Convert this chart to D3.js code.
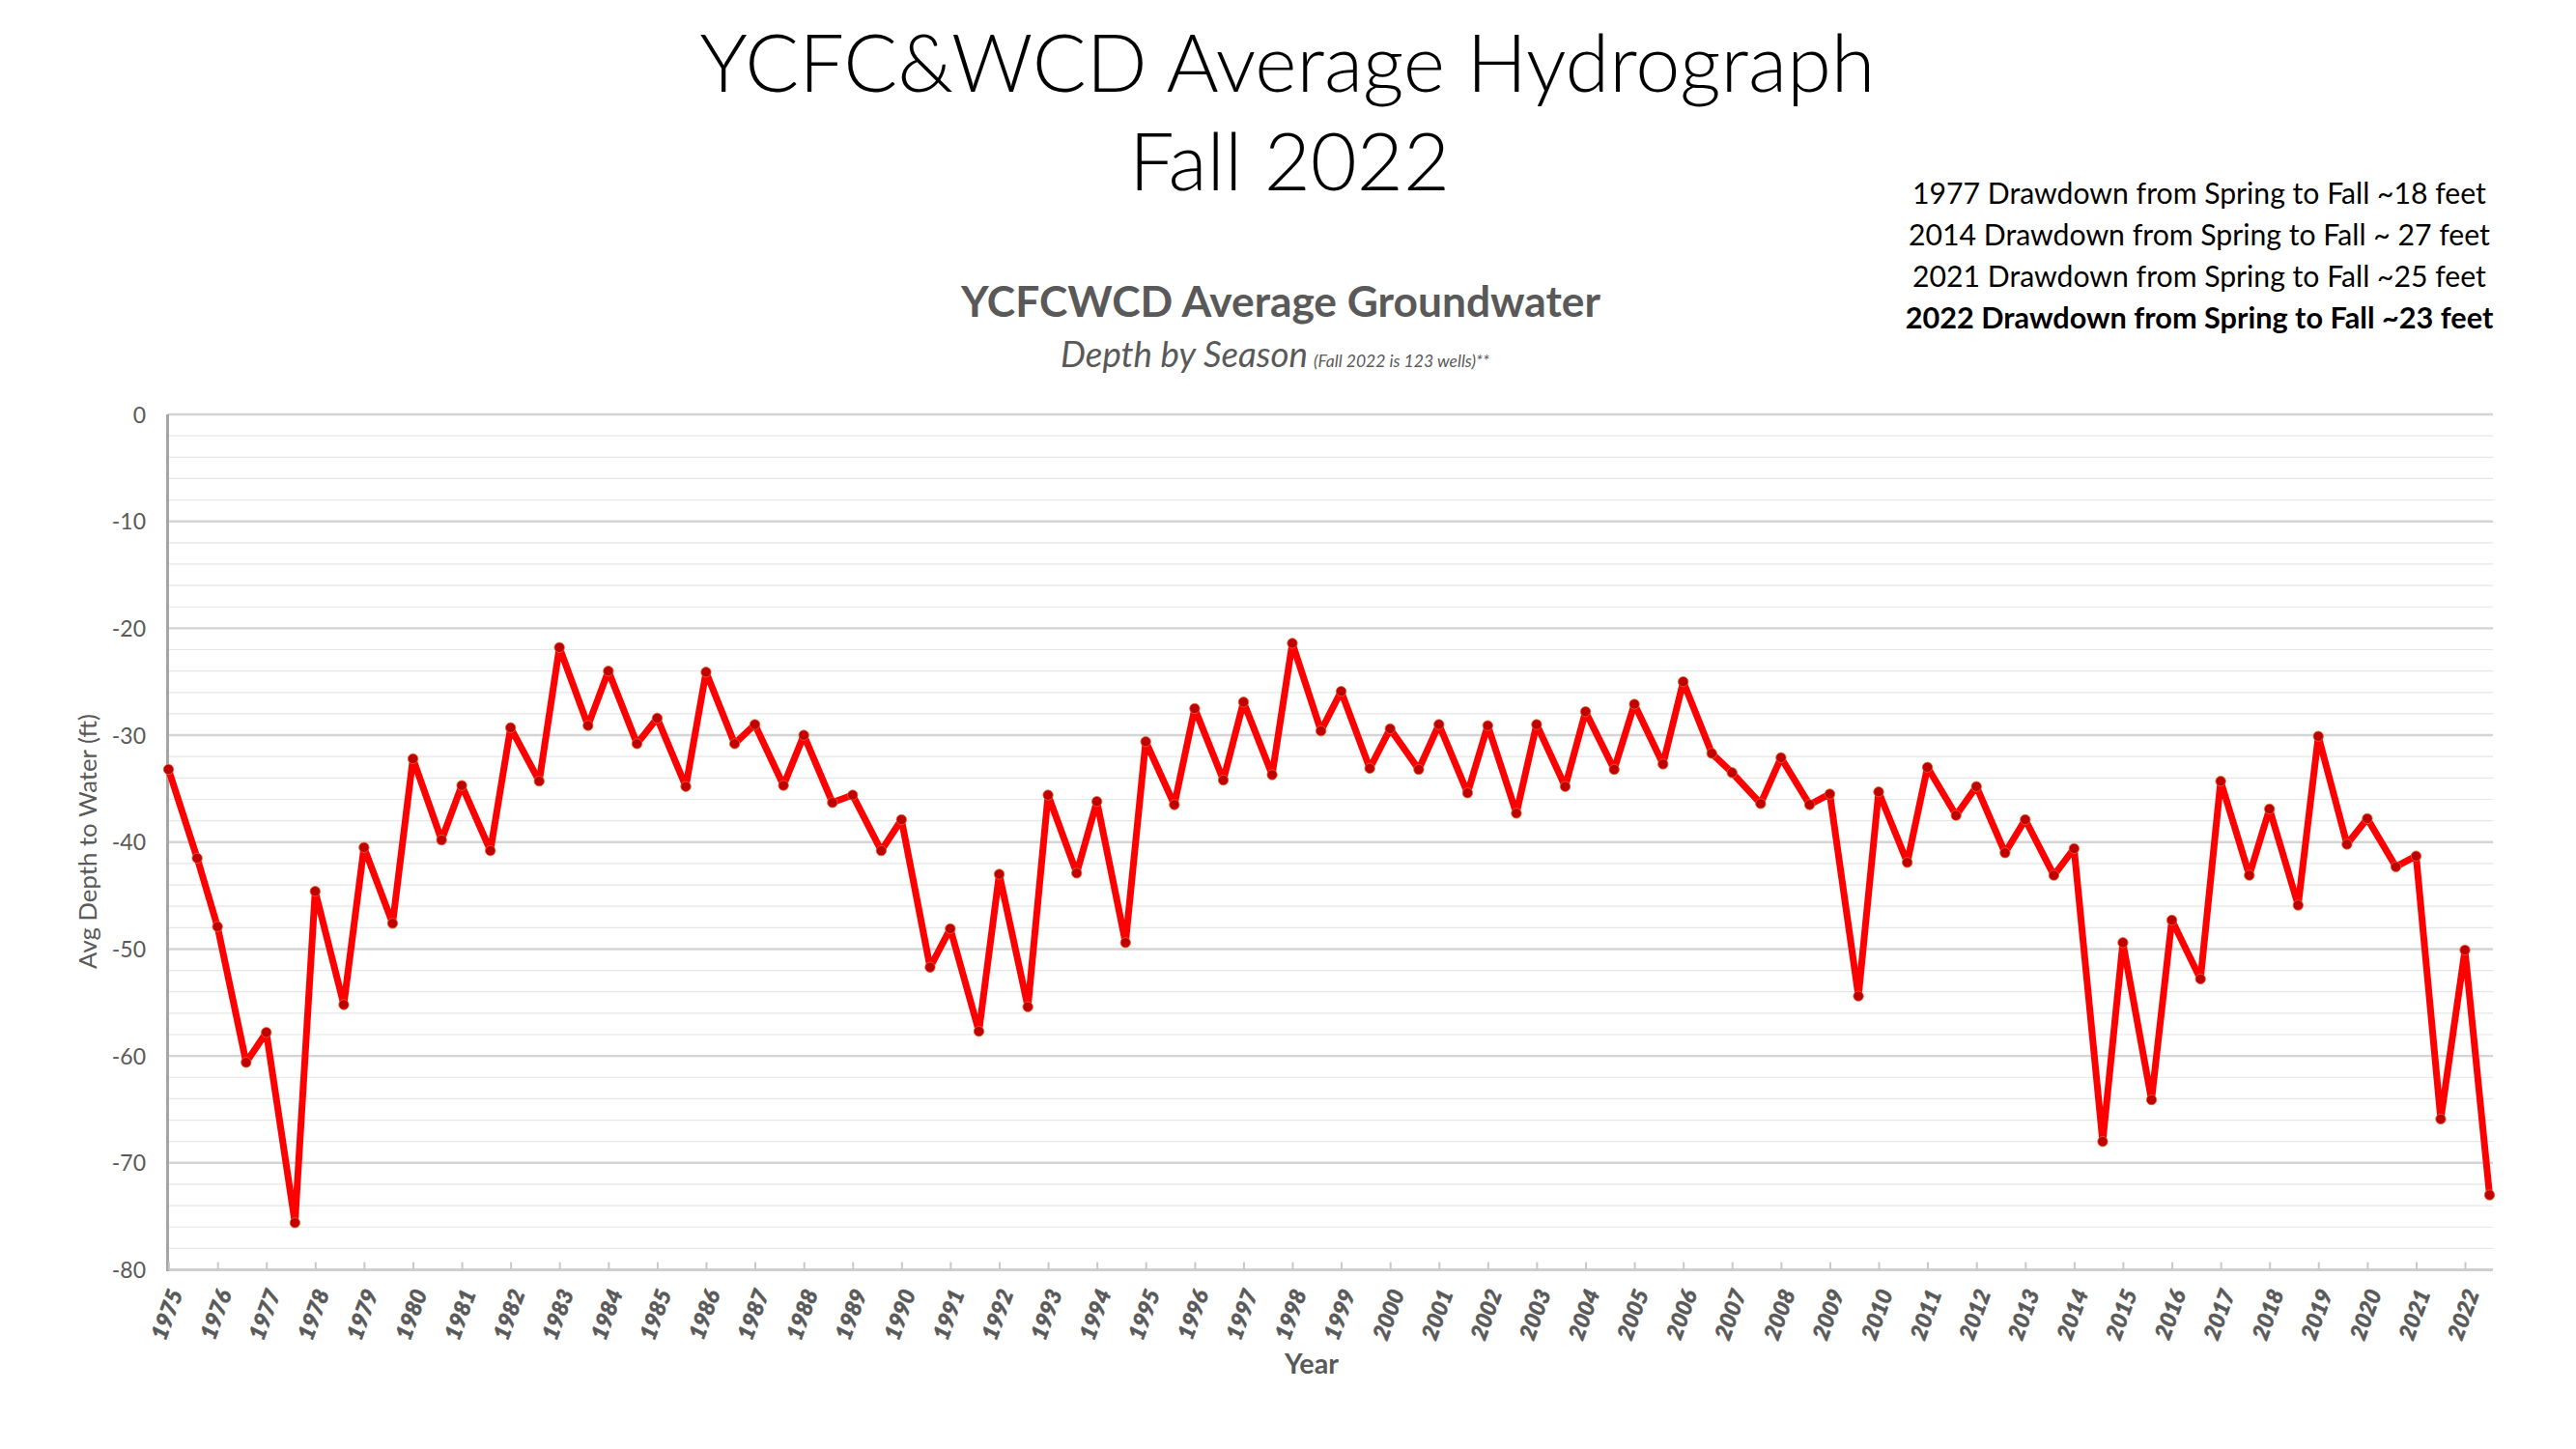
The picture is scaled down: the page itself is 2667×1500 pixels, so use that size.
<!DOCTYPE html>
<html>
<head>
<meta charset="utf-8">
<script src="https://cdn.jsdelivr.net/npm/d3@7/dist/d3.min.js"></script>
<style>
  html, body { margin: 0; padding: 0; background: #ffffff; }
  svg { display: block; }
  text { font-family: Lato, "Open Sans", "Noto Sans", sans-serif; }
</style>
</head>
<body>
<svg id="chart" width="2667" height="1500"></svg>
<script>
// ---------------- DATA ----------------
const years = [1975,1976,1977,1978,1979,1980,1981,1982,1983,1984,1985,1986,1987,1988,1989,1990,
               1991,1992,1993,1994,1995,1996,1997,1998,1999,2000,2001,2002,2003,2004,2005,2006,
               2007,2008,2009,2010,2011,2012,2013,2014,2015,2016,2017,2018,2019,2020,2021,2022];

// Spring measurement (ft, negative = depth below surface)
const springDepth = [-33.2,-47.9,-57.8,-44.6,-40.5,-32.2,-34.7,-29.3,-21.8,-24.0,-28.4,-24.1,-29.0,-30.0,-35.6,-37.9,
                     -48.1,-43.0,-35.6,-36.2,-30.6,-27.5,-26.9,-21.4,-25.9,-29.4,-29.0,-29.1,-29.0,-27.8,-27.1,-25.0,
                     -33.5,-32.1,-35.5,-35.3,-33.0,-34.8,-37.9,-40.6,-49.4,-47.3,-34.3,-36.9,-30.1,-37.8,-41.3,-50.1];

// Fall measurement
const fallDepth = [-41.5,-60.6,-75.6,-55.2,-47.6,-39.8,-40.8,-34.3,-29.1,-30.8,-34.8,-30.8,-34.7,-36.3,-40.8,-51.7,
                   -57.7,-55.4,-42.9,-49.4,-36.5,-34.2,-33.7,-29.6,-33.1,-33.2,-35.4,-37.3,-34.8,-33.2,-32.7,-31.7,
                   -36.4,-36.5,-54.4,-41.9,-37.5,-41.0,-43.1,-68.0,-64.1,-52.8,-43.1,-45.9,-40.2,-42.3,-65.9,-73.0];

// Sampling months (spring in March, fall in October; Sept for the latest two falls)
const springMonth = 3;
const fallMonth = 10;
const fallMonthOverride = {2021: 9, 2022: 9};

const yTicks = [0,-10,-20,-30,-40,-50,-60,-70,-80];
const yMinorTicks = d3.range(0, -81, -2);

const titleLines = ["YCFC&WCD Average Hydrograph", "Fall 2022"];
const chartTitle = "YCFCWCD Average Groundwater";
const chartSubtitle = "Depth by Season";
const chartSubnote = "(Fall 2022 is 123 wells)**";
const notes = [
  {text: "1977 Drawdown from Spring to Fall ~18 feet", bold: false},
  {text: "2014 Drawdown from Spring to Fall ~ 27 feet", bold: false},
  {text: "2021 Drawdown from Spring to Fall ~25 feet", bold: false},
  {text: "2022 Drawdown from Spring to Fall ~23 feet", bold: true}
];
const yAxisTitle = "Avg Depth to Water (ft)";
const xAxisTitle = "Year";

// ---------------- BUILD SERIES ----------------
const points = [];
years.forEach((yr, i) => {
  points.push({date: new Date(Date.UTC(yr, springMonth - 1, 1)), v: springDepth[i]});
  const fm = fallMonthOverride[yr] || fallMonth;
  points.push({date: new Date(Date.UTC(yr, fm - 1, 1)), v: fallDepth[i]});
});

// ---------------- LAYOUT ----------------
const svg = d3.select("#chart");
const plotLeft = 173.5, plotRight = 2581, plotTop = 429, plotBottom = 1314.5;
const gray = "#595959";

const x = d3.scaleUtc()
  .domain([points[0].date, points[points.length - 1].date])
  .range([174.5, 2577.5]);
const y = d3.scaleLinear().domain([0, -80]).range([plotTop, plotBottom]);

function fit(sel, w) {
  const len = sel.node().getComputedTextLength();
  const fs = parseFloat(sel.attr("font-size"));
  sel.attr("font-size", (fs * w / len).toFixed(2));
  return sel;
}

// ---------------- GRID ----------------
const grid = svg.append("g");
grid.selectAll("line.minor")
  .data(yMinorTicks.filter(v => v % 10 !== 0))
  .join("line").attr("class", "minor")
  .attr("x1", plotLeft).attr("x2", plotRight)
  .attr("y1", d => y(d)).attr("y2", d => y(d))
  .attr("stroke", "#e6e6e6").attr("stroke-width", 1.2);
grid.selectAll("line.major")
  .data(yTicks.filter(v => v !== -80))
  .join("line").attr("class", "major")
  .attr("x1", plotLeft).attr("x2", plotRight)
  .attr("y1", d => y(d)).attr("y2", d => y(d))
  .attr("stroke", "#d4d4d4").attr("stroke-width", 2.4);

// ---------------- AXES ----------------
svg.append("line")
  .attr("x1", plotLeft).attr("x2", plotRight)
  .attr("y1", y(-80)).attr("y2", y(-80))
  .attr("stroke", "#cfcfcf").attr("stroke-width", 3);
svg.append("line")
  .attr("x1", plotLeft).attr("x2", plotLeft)
  .attr("y1", plotTop).attr("y2", plotBottom + 1.5)
  .attr("stroke", "#a6a6a6").attr("stroke-width", 3);

const xAxis = d3.axisBottom(x)
  .tickValues(years.map(yr => new Date(Date.UTC(yr, springMonth - 1, 1))))
  .tickFormat(d3.utcFormat("%Y"))
  .tickSize(-8).tickSizeOuter(0);
const gx = svg.append("g").attr("transform", `translate(0,${y(-80)})`).call(xAxis);
gx.select(".domain").remove();
gx.selectAll(".tick line").attr("stroke", "#c8c8c8").attr("stroke-width", 2);
gx.selectAll(".tick text")
  .attr("fill", gray)
  .attr("stroke", gray).attr("stroke-width", 0.6)
  .attr("font-size", 23)
  .attr("font-weight", 900)
  .attr("font-style", "italic")
  .attr("text-anchor", "middle")
  .attr("dominant-baseline", "central")
  .attr("x", 0).attr("y", 0).attr("dy", null)
  .attr("transform", "translate(-3,46) rotate(-70)");

const yAxis = d3.axisLeft(y).tickValues(yTicks).tickFormat(d => String(d)).tickSize(0).tickPadding(0);
const gy = svg.append("g").attr("transform", `translate(151,0)`).call(yAxis);
gy.select(".domain").remove();
gy.selectAll(".tick text")
  .attr("fill", gray)
  .attr("font-size", 23)
  .attr("x", 0).attr("dy", "0.35em");

// ---------------- SERIES ----------------
const line = d3.line().x(d => x(d.date)).y(d => y(d.v));
svg.append("path")
  .datum(points)
  .attr("d", line)
  .attr("fill", "none")
  .attr("stroke", "#ff0000")
  .attr("stroke-width", 7)
  .attr("stroke-linejoin", "round");
svg.append("g").selectAll("circle")
  .data(points).join("circle")
  .attr("cx", d => x(d.date)).attr("cy", d => y(d.v))
  .attr("r", 5.2)
  .attr("fill", "#c00000")
  .attr("stroke", "#e2672e").attr("stroke-width", 0.8);

// ---------------- TEXT ----------------
const t1 = svg.append("text").text(titleLines[0])
  .attr("x", 1333).attr("y", 95).attr("text-anchor", "middle")
  .attr("font-size", 90).attr("font-weight", 300).attr("fill", "#000");
fit(t1, 1217);
svg.append("text").text(titleLines[1])
  .attr("x", 1335).attr("y", 197).attr("text-anchor", "middle")
  .attr("font-size", t1.attr("font-size")).attr("font-weight", 300).attr("fill", "#000");

const st = svg.append("text").text(chartTitle)
  .attr("x", 1326).attr("y", 328).attr("text-anchor", "middle")
  .attr("font-size", 40).attr("font-weight", 700).attr("fill", gray);
fit(st, 662);

const sub = svg.append("text").text(chartSubtitle)
  .attr("x", 1098).attr("y", 380).attr("text-anchor", "start")
  .attr("font-size", 33).attr("font-style", "italic").attr("fill", gray);
fit(sub, 256);
const subn = svg.append("text").text(chartSubnote)
  .attr("x", 1360).attr("y", 380).attr("text-anchor", "start")
  .attr("font-size", 17).attr("font-style", "italic").attr("fill", gray);
fit(subn, 182);

const noteBase = [211, 254, 297, 340];
const noteWidths = [594, 602, 594, 609];
notes.forEach((n, i) => {
  const t = svg.append("text").text(n.text)
    .attr("x", 2277).attr("y", noteBase[i]).attr("text-anchor", "middle")
    .attr("font-size", 30).attr("font-weight", n.bold ? 700 : 400).attr("fill", "#000");
  fit(t, noteWidths[i]);
});

const yt = svg.append("text").text(yAxisTitle)
  .attr("transform", "translate(100,871) rotate(-90)")
  .attr("text-anchor", "middle")
  .attr("font-size", 26).attr("fill", gray);
fit(yt, 264);

const xt = svg.append("text").text(xAxisTitle)
  .attr("x", 1358).attr("y", 1422).attr("text-anchor", "middle")
  .attr("font-size", 28).attr("font-weight", 700).attr("fill", gray);
fit(xt, 56);
</script>
</body>
</html>
